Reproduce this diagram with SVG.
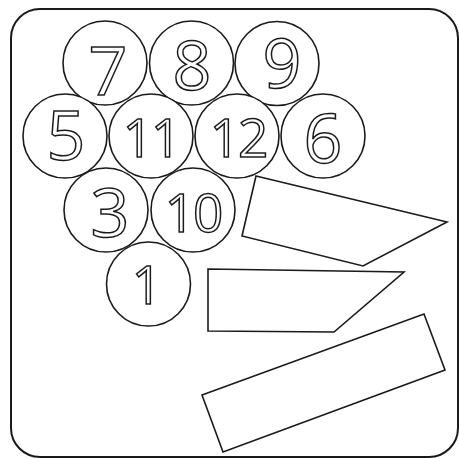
<svg xmlns="http://www.w3.org/2000/svg" width="459" height="458" viewBox="0 0 459 458">
<style>
.c{fill:#fff;stroke:#1a1a1a;stroke-width:1.6}
.p{fill:#fff;stroke:#1a1a1a;stroke-width:1.6;stroke-linejoin:miter}
.t{font-family:"Open Sans",sans-serif;font-weight:500;fill:#fff;stroke:#1a1a1a;stroke-width:1.5;text-anchor:middle}
.b{font-size:68px}
.s{font-size:53px;letter-spacing:-2px}
</style>
<rect x="11" y="9" width="447" height="448" rx="29" ry="29" fill="#fff" stroke="#1a1a1a" stroke-width="2"/>
<g id="connectors"></g>
<g id="n7"><circle class="c" cx="105" cy="63" r="42"/><text class="t b" x="108" y="95">7</text></g>
<g id="n8"><circle class="c" cx="191.5" cy="63" r="42"/><text class="t b" x="192" y="90">8</text></g>
<g id="n9"><circle class="c" cx="277" cy="63.5" r="42"/><text class="t b" x="282" y="88">9</text></g>
<g id="n5"><circle class="c" cx="65" cy="136" r="42"/><text class="t b" x="66" y="160">5</text></g>
<g id="n11"><circle class="c" cx="151" cy="136" r="42"/><text class="t s" x="151" y="157">11</text></g>
<g id="n12"><circle class="c" cx="237" cy="136" r="42"/><text class="t s" x="238" y="157">12</text></g>
<g id="n6"><circle class="c" cx="323" cy="136" r="42"/><text class="t b" x="323" y="163">6</text></g>
<g id="n3"><circle class="c" cx="106" cy="210" r="42"/><text class="t b" x="110" y="237">3</text></g>
<g id="n10"><circle class="c" cx="193" cy="210" r="42"/><text class="t s" x="193" y="232">10</text></g>
<g id="n1"><circle class="c" cx="148.5" cy="284" r="42"/><text class="t s" x="146" y="304">1</text></g>
<g id="shapeA"><polygon class="p" points="256,176 447,222 363,266 242,236"/></g>
<g id="shapeB"><polygon class="p" points="208,269 404,272 334,332 208,331"/></g>
<g id="shapeC"><polygon class="p" points="202,395 424,314 445,370 223,452"/></g>
</svg>
